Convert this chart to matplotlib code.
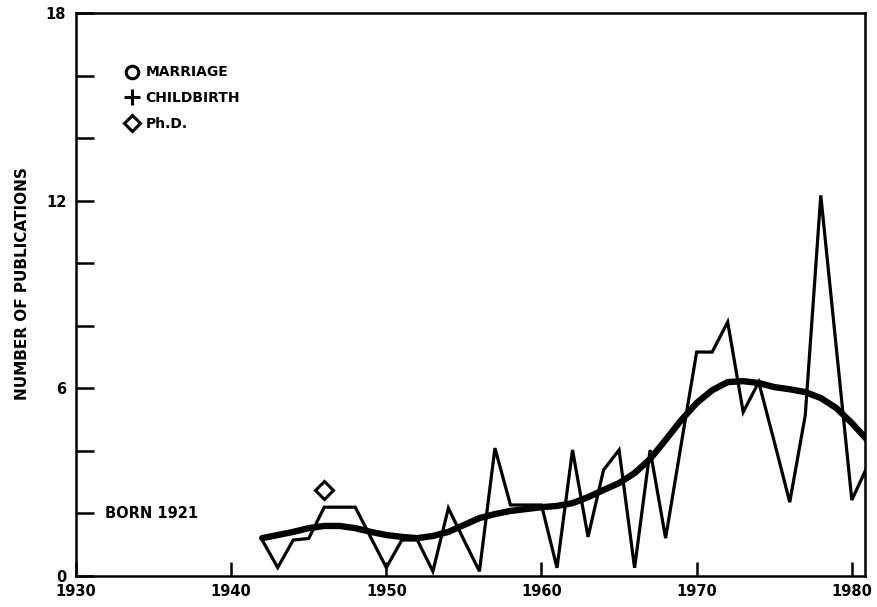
import matplotlib
matplotlib.use("Agg")
from matplotlib import pyplot as plt
from matplotlib.lines import Line2D

# yearly publication counts (thin line)
years = list(range(1942, 1982))
pubs = [1.15, 0.27, 1.15, 1.2, 2.2, 2.2, 2.2, 1.23, 0.27, 1.15,
        1.15, 0.15, 2.17, 1.15, 0.15, 4.09, 2.27, 2.27, 2.27, 0.26,
        4.03, 1.25, 3.39, 4.03, 0.26, 4.03, 1.21, 4.2, 7.16, 7.16,
        8.12, 5.24, 6.2, 4.3, 2.36, 5.14, 12.17, 7.3, 2.43, 3.5]

# smoothed trend (thick line)
trend = [1.21, 1.31, 1.41, 1.53, 1.6, 1.6, 1.53, 1.41, 1.31, 1.25,
         1.21, 1.28, 1.41, 1.63, 1.85, 1.98, 2.08, 2.14, 2.2, 2.24,
         2.33, 2.52, 2.75, 2.97, 3.29, 3.74, 4.35, 4.98, 5.53, 5.94,
         6.2, 6.23, 6.17, 6.04, 5.97, 5.88, 5.69, 5.37, 4.89, 4.35]

phd_year, phd_y = 1946, 2.75
xticks = [1930, 1940, 1950, 1960, 1970, 1980]
yticks = [0, 2, 4, 6, 8, 10, 12, 14, 16, 18]
ylabels = ['0', '', '', '6', '', '', '12', '', '', '18']

plt.rcParams['font.family'] = 'DejaVu Sans'
plt.rcParams['font.weight'] = 'bold'

fig = plt.figure(figsize=(8.78, 6.07), dpi=100)
ax = fig.add_axes([76/878, 1-576/607, (865-76)/878, (576-13)/607])

ax.plot(years, pubs, color='black', lw=2.3, solid_joinstyle='miter')
ax.plot(years, trend, color='black', lw=4.6, solid_capstyle='round')
ax.plot([phd_year], [phd_y], marker='D', ms=9, mfc='white', mec='black', mew=2.2, ls='none')

ax.text(1931.9, 2.0, 'BORN 1921', fontsize=10.5, fontweight='bold', va='center', ha='left')

ax.set_xlim(1930, 1980.85)
ax.set_ylim(0, 18)
ax.set_xticks(xticks)
ax.set_yticks(yticks)
ax.set_yticklabels(ylabels)
ax.tick_params(axis='both', direction='in', width=1.8, labelsize=10.5, colors='black')
ax.tick_params(axis='y', length=13, pad=7)
ax.tick_params(axis='x', length=10, pad=6)
for lab in ax.get_xticklabels() + ax.get_yticklabels():
    lab.set_fontweight('bold')
for sp in ax.spines.values():
    sp.set_linewidth(1.8)

ax.set_ylabel('NUMBER OF PUBLICATIONS', fontsize=11, fontweight='bold', labelpad=11)
ax.yaxis.label.set_y(0.52)

handles = [
    Line2D([], [], marker='o', ls='none', ms=9, mfc='white', mec='black', mew=2.2),
    Line2D([], [], marker='+', ls='none', ms=12, mec='black', mew=2.2),
    Line2D([], [], marker='D', ls='none', ms=8, mfc='white', mec='black', mew=2.2),
]
ax.legend(handles, ['MARRIAGE', 'CHILDBIRTH', 'Ph.D.'], loc='upper left',
          bbox_to_anchor=(0.046, 0.929), frameon=False, handlelength=1.0,
          handletextpad=0.5, labelspacing=0.85, prop={'size': 10, 'weight': 'bold'})

fig.savefig('out.png', dpi=100)
